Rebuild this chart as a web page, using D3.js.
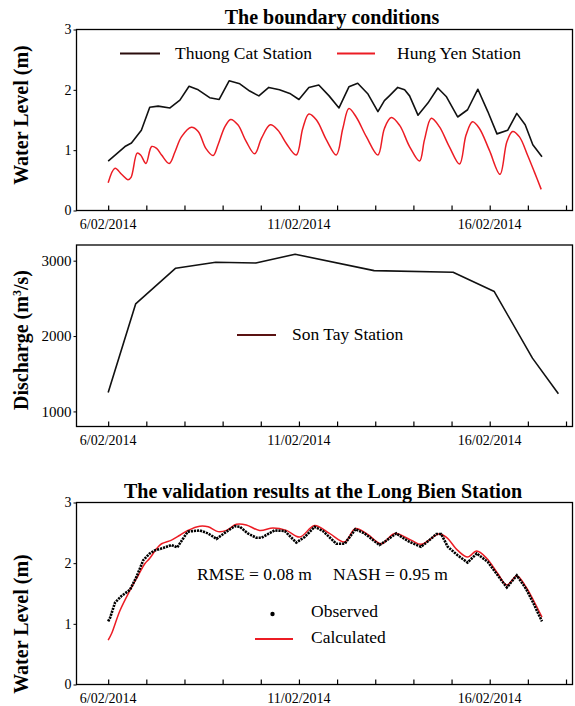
<!DOCTYPE html>
<html><head><meta charset="utf-8">
<script src="https://cdn.jsdelivr.net/npm/d3@7"></script>
<style>
body{margin:0;background:#fff;}
svg text{font-family:"Liberation Serif","Times New Roman",serif !important;fill:#000;}
</style></head>
<body>
<svg id="chart" width="575" height="706"></svg>
<script>
// ---------- DATA (days after 6/02/2014 00:00) ----------
const xTickDays = [0,1,2,3,4,5,6,7,8,9,10,11,12];
const xTickLabelDays = [0,5,10];
const xTickLabels = ["6/02/2014","11/02/2014","16/02/2014"];

const thuongCatDays  = [0,0.44,0.61,0.87,1.09,1.31,1.62,1.88,2.12,2.36,2.66,2.91,3.17,3.45,3.71,3.95,4.21,4.49,4.76,5.00,5.26,5.52,5.79,6.05,6.31,6.54,6.81,7.07,7.24,7.37,7.59,7.77,7.90,8.12,8.38,8.64,8.86,9.16,9.42,9.69,9.95,10.19,10.47,10.71,10.93,11.13,11.37];
const thuongCatLevel = [0.82,1.06,1.12,1.33,1.71,1.73,1.70,1.83,2.06,2.00,1.87,1.84,2.15,2.10,1.98,1.90,2.04,2.00,1.94,1.84,2.04,2.08,1.90,1.70,2.05,2.11,1.93,1.64,1.82,1.90,2.04,2.00,1.90,1.58,1.78,2.03,1.89,1.55,1.67,2.01,1.64,1.27,1.33,1.61,1.42,1.09,0.89];

const hungYenDays  = [0,0.18,0.35,0.52,0.60,0.76,0.85,0.99,1.14,1.27,1.40,1.60,1.75,1.92,2.18,2.36,2.56,2.75,2.88,3.06,3.21,3.40,3.62,3.84,4.02,4.25,4.45,4.67,4.93,5.10,5.26,5.46,5.72,5.98,6.15,6.31,6.50,6.77,7.07,7.24,7.42,7.64,7.90,8.16,8.29,8.47,8.68,8.94,9.21,9.38,9.55,9.73,9.99,10.27,10.45,10.60,10.78,10.99,11.17,11.35];
const hungYenLevel = [0.46,0.70,0.60,0.51,0.55,0.95,0.92,0.78,1.06,1.03,0.92,0.78,0.97,1.22,1.38,1.31,1.03,0.91,1.09,1.39,1.51,1.42,1.14,0.94,1.20,1.42,1.33,1.11,0.92,1.36,1.60,1.50,1.17,0.92,1.36,1.69,1.55,1.22,0.92,1.36,1.54,1.41,1.06,0.82,1.17,1.53,1.39,1.06,0.77,1.25,1.47,1.36,1.00,0.60,1.14,1.31,1.22,0.92,0.64,0.35];

const sonTayDays      = [0,0.72,1.77,2.82,3.87,4.90,6.97,9.04,10.12,11.12,11.80];
const sonTayDischarge = [1252,2426,2900,2979,2970,3085,2868,2846,2590,1707,1234];

const observedDays  = [0,0.05,0.18,0.35,0.57,0.74,0.92,1.09,1.22,1.44,1.66,1.81,2.01,2.09,2.40,2.62,2.84,3.10,3.32,3.45,3.66,3.88,4.02,4.36,4.63,4.93,5.15,5.41,5.63,5.98,6.20,6.48,6.72,7.11,7.24,7.55,7.77,7.90,8.20,8.42,8.60,8.73,8.90,9.16,9.42,9.66,9.95,10.21,10.45,10.71,10.95,11.13,11.37];
const observedLevel = [1.04,1.10,1.35,1.46,1.56,1.77,2.05,2.16,2.21,2.25,2.30,2.26,2.45,2.52,2.54,2.49,2.40,2.52,2.61,2.60,2.49,2.42,2.42,2.54,2.53,2.34,2.43,2.60,2.53,2.32,2.32,2.56,2.49,2.30,2.35,2.49,2.40,2.35,2.27,2.38,2.48,2.48,2.27,2.13,2.01,2.16,2.02,1.80,1.60,1.80,1.58,1.36,1.04];

const calculatedDays  = [0,0.09,0.31,0.57,0.79,0.96,1.09,1.27,1.40,1.66,1.88,2.09,2.40,2.62,2.88,3.10,3.36,3.62,3.97,4.32,4.67,5.02,5.41,5.80,6.20,6.48,6.81,7.16,7.51,7.94,8.20,8.47,8.66,8.86,9.16,9.42,9.66,9.92,10.21,10.45,10.71,10.95,11.17,11.37];
const calculatedLevel = [0.73,0.84,1.22,1.55,1.80,1.99,2.08,2.24,2.32,2.38,2.46,2.54,2.61,2.60,2.52,2.54,2.64,2.63,2.54,2.58,2.54,2.43,2.62,2.49,2.35,2.57,2.47,2.32,2.49,2.38,2.31,2.41,2.48,2.43,2.21,2.10,2.20,2.08,1.83,1.64,1.79,1.61,1.36,1.11];

const levelTicks = [0,1,2,3];
const dischargeTicks = [1000,2000,3000];

// ---------- LAYOUT ----------
const FONT = '"Liberation Serif","Times New Roman",serif';
const svg = d3.select("#chart").style("font-family", FONT);
const L = 76.5, R = 572.5;
const RED = "#ec1c24";
const x = d3.scaleLinear().domain([-0.83, 12.17]).range([L, R]);

function zip(a,b){ return a.map((d,i)=>[d,b[i]]); }
function txt(sel){ return sel.style("font-family", FONT).attr("fill","#000"); }

function panel(top, bottom, yDomain, yTicks, yFont){
  const y = d3.scaleLinear().domain(yDomain).range([bottom, top]);
  const g = svg.append("g");
  const xa = g.append("g").attr("transform",`translate(0,${bottom})`)
    .call(d3.axisTop(x).tickValues(xTickDays).tickSize(5).tickFormat(""));
  xa.select(".domain").remove();
  xa.selectAll("line").attr("stroke","#000").attr("stroke-width",1.2);
  txt(g.selectAll(".xl").data(xTickLabelDays).enter().append("text")
    .attr("x",d=>x(d)).attr("y",bottom+18).attr("text-anchor","middle")
    .style("font-size","14px").text((d,i)=>xTickLabels[i]));
  const ya = g.append("g").attr("transform",`translate(${L},0)`)
    .call(d3.axisLeft(y).tickValues(yTicks).tickSize(3).tickPadding(2).tickFormat(d3.format("d")));
  ya.attr("font-family", null);
  ya.select(".domain").remove();
  ya.selectAll("line").attr("stroke","#000").attr("stroke-width",1);
  txt(ya.selectAll("text").style("font-size",yFont+"px"));
  g.append("rect").attr("x",L).attr("y",top).attr("width",R-L).attr("height",bottom-top)
    .attr("fill","none").attr("stroke","#000").attr("stroke-width",1.3);
  return {g,y};
}

function yTitle(text, cy){
  return txt(svg.append("text").attr("transform",`translate(28,${cy}) rotate(-90)`)
    .attr("text-anchor","middle").style("font-size","20px").style("font-weight","bold").text(text));
}
function label(g, xx, yy, s){
  return txt(g.append("text").attr("x",xx).attr("y",yy).style("font-size","17.5px").text(s));
}

// ---------- PANEL 1 ----------
const p1 = panel(29.5, 210.5, [0,3], levelTicks, 14);
txt(svg.append("text").attr("x",332).attr("y",24).attr("text-anchor","middle")
  .style("font-size","20px").style("font-weight","bold").text("The boundary conditions"));
yTitle("Water Level (m)", 115);
const line1 = d3.line().x(d=>x(d[0])).y(d=>p1.y(d[1]));
p1.g.append("path").datum(zip(thuongCatDays,thuongCatLevel)).attr("d",line1)
  .attr("fill","none").attr("stroke","#111").attr("stroke-width",1.6).attr("stroke-linejoin","round");
p1.g.append("path").datum(zip(hungYenDays,hungYenLevel)).attr("d",d3.line().x(d=>x(d[0])).y(d=>p1.y(d[1])).curve(d3.curveCatmullRom.alpha(0.5)))
  .attr("fill","none").attr("stroke",RED).attr("stroke-width",1.5);
p1.g.append("line").attr("x1",120).attr("x2",160).attr("y1",53.5).attr("y2",53.5).attr("stroke","#2a0c0c").attr("stroke-width",2);
label(p1.g,175,59,"Thuong Cat Station");
p1.g.append("line").attr("x1",337).attr("x2",375).attr("y1",53.5).attr("y2",53.5).attr("stroke",RED).attr("stroke-width",2);
label(p1.g,397,59,"Hung Yen Station");

// ---------- PANEL 2 ----------
const p2 = panel(245, 426.5, [800,3208], dischargeTicks, 15);
const t2 = txt(svg.append("text").attr("transform",`translate(28,340) rotate(-90)`)
  .attr("text-anchor","middle").style("font-size","20px").style("font-weight","bold"));
t2.append("tspan").text("Discharge (m");
t2.append("tspan").attr("dy",-7).style("font-size","12px").text("3");
t2.append("tspan").attr("dy",7).text("/s)");
const line2 = d3.line().x(d=>x(d[0])).y(d=>p2.y(d[1]));
p2.g.append("path").datum(zip(sonTayDays,sonTayDischarge)).attr("d",line2)
  .attr("fill","none").attr("stroke","#111").attr("stroke-width",1.6).attr("stroke-linejoin","round");
p2.g.append("line").attr("x1",237).attr("x2",276).attr("y1",335).attr("y2",335).attr("stroke","#5a1212").attr("stroke-width",2);
label(p2.g,292,340,"Son Tay Station");

// ---------- PANEL 3 ----------
const p3 = panel(502.5, 684.5, [0,3], levelTicks, 14);
txt(svg.append("text").attr("x",323).attr("y",498).attr("text-anchor","middle")
  .style("font-size","20px").style("font-weight","bold").text("The validation results at the Long Bien Station"));
yTitle("Water Level (m)", 624);
p3.g.append("path").datum(zip(calculatedDays,calculatedLevel))
  .attr("d",d3.line().x(d=>x(d[0])).y(d=>p3.y(d[1])).curve(d3.curveCatmullRom.alpha(0.5)))
  .attr("fill","none").attr("stroke",RED).attr("stroke-width",1.5);
p3.g.append("path").datum(zip(observedDays,observedLevel))
  .attr("d",d3.line().x(d=>x(d[0])).y(d=>p3.y(d[1])))
  .attr("fill","none").attr("stroke","#000").attr("stroke-width",2.6).attr("stroke-dasharray","2.2,0.9");
label(p3.g,197,580,"RMSE = 0.08 m");
label(p3.g,333,580,"NASH = 0.95 m");
p3.g.append("circle").attr("cx",272.5).attr("cy",614).attr("r",2.2).attr("fill","#000");
label(p3.g,311,617,"Observed");
p3.g.append("line").attr("x1",255).attr("x2",293).attr("y1",639).attr("y2",639).attr("stroke",RED).attr("stroke-width",2);
label(p3.g,311,643,"Calculated");
</script>
</body></html>
